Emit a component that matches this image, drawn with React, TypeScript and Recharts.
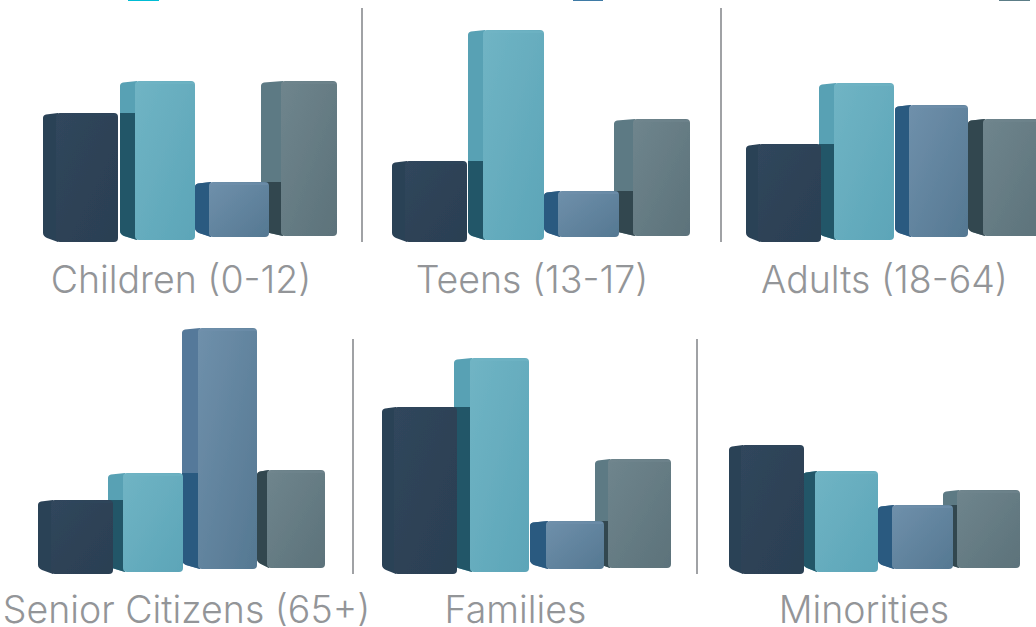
import { Bar, BarChart, Label, XAxis, YAxis } from "recharts";

const categories = ["Segment A", "Segment B", "Segment C", "Segment D"];

const panelNames = [
  "Children (0-12)",
  "Teens (13-17)",
  "Adults (18-64)",
  "Senior Citizens (65+)",
  "Families",
  "Minorities",
];

// bar heights for each panel, one list per series
const seriesA = [129, 81, 98, 74, 167, 129];
const seriesB = [159, 210, 157, 99, 214, 101];
const seriesC = [55, 46, 132, 241, 48, 64];
const seriesD = [155, 117, 117, 98, 109, 78];

const PLOT_H = 260;
const LABEL_H = 62;
const PAD = 60;

type Tone = { side: string; shade: string; light: string; dark: string };

const tones: Tone[] = [
  { side: "#2c4257", shade: "#2c4257", light: "#30465c", dark: "#2b3f52" },
  { side: "#58a1b4", shade: "#215768", light: "#70b4c4", dark: "#5ca5b8" },
  { side: "#55799a", shade: "#2b5a80", light: "#6f90ab", dark: "#557892" },
  { side: "#5d7a84", shade: "#33474f", light: "#6f858d", dark: "#5c727a" },
];

// per panel placement, and per bar fine adjustments (perspective of the render)
const panels = [
  { left: 43, bottom: 242, band: 74, shift: [0, 3, 4, -4], side: [13, 15, 14, 20], widths: [75, 75, 74, 76], labelDx: -10, labelDy: 7 },
  { left: 392, bottom: 242, band: 75, shift: [0, 1, 2, -3], side: [13, 15, 14, 19], widths: [75, 76, 75, 76], labelDx: -10, labelDy: 7 },
  { left: 746, bottom: 242, band: 74, shift: [0, -1, 1, 0], side: [12, 15, 14, 15], widths: [75, 75, 73, 76], labelDx: -9.5, labelDy: 7 },
  { left: 38, bottom: 574, band: 72, shift: [0, -2, 0, 3], side: [13, 15, 16, 10], widths: [75, 75, 75, 68], labelDx: 4.5, labelDy: 5 },
  { left: 382, bottom: 574, band: 72, shift: [0, 0, 4, -3], side: [12, 16, 16, 13], widths: [75, 75, 74, 76], labelDx: -10.5, labelDy: 5 },
  { left: 729, bottom: 574, band: 73, shift: [0, 1, 3, -5], side: [12, 12, 14, 14], widths: [75, 75, 75, 77], labelDx: -11, labelDy: 5 },
];

const drops = [0, 2, 5, 6];

const dividers = [
  { x: 361, y: 8, h: 234 },
  { x: 720, y: 8, h: 234 },
  { x: 352, y: 339, h: 235 },
  { x: 696, y: 339, h: 235 },
];

const legendStubs = [
  { x: 128, w: 31, color: "#00bcd4" },
  { x: 573, w: 30, color: "#3f7ba6" },
  { x: 999, w: 31, color: "#5c7d87" },
];

function ChartDefs({ prefix }: { prefix: string }) {
  return (
    <defs>
      {tones.map((t, i) => (
        <linearGradient key={i} id={`${prefix}-${i}`} x1="0" y1="0" x2="1" y2="1">
          <stop offset="0%" stopColor={t.light} />
          <stop offset="100%" stopColor={t.dark} />
        </linearGradient>
      ))}
      <filter id={`${prefix}-soft`} x="-5%" y="-5%" width="110%" height="110%">
        <feGaussianBlur stdDeviation="0.6" />
      </filter>
    </defs>
  );
}

function Box(props: any) {
  const { x, y, height, payload, panel, prefix } = props;
  const i: number = payload.index;
  const tone = tones[i];
  const cfg = panels[panel];
  const left = x + cfg.shift[i];
  const top = y - drops[i];
  const bottom = top + height;
  const right = left + cfg.widths[i];
  const front = left + cfg.side[i];
  // the neighbour in front throws its shadow on this bar's side face
  const prevTop = i > 0 ? PLOT_H - drops[i - 1] - payload.prevValue : null;
  const shadowTop = prevTop === null ? bottom : Math.max(prevTop, top);

  const sidePath = `M${left},${top + 5} Q${left},${top + 2} ${left + 3},${top + 1.5}
    L${front + 2},${top} L${front + 2},${bottom} L${left + 4},${bottom - 4} Q${left},${bottom - 6} ${left},${bottom - 9} Z`;

  return (
    <g filter={`url(#${prefix}-soft)`}>
      <clipPath id={`${prefix}-clip-${i}`}>
        <path d={sidePath} />
      </clipPath>
      <path d={sidePath} fill={tone.side} />
      {shadowTop < bottom && (
        <rect
          x={left}
          y={shadowTop}
          width={cfg.side[i] + 2}
          height={bottom - shadowTop}
          fill={tone.shade}
          clipPath={`url(#${prefix}-clip-${i})`}
        />
      )}
      <rect
        x={front}
        y={top}
        width={right - front}
        height={height}
        rx={4}
        fill={`url(#${prefix}-${i})`}
      />
      <rect x={front + 1} y={top + 1} width={right - front - 2} height={2} fill={tone.light} opacity={0.6} />
    </g>
  );
}

function Panel({ panel }: { panel: number }) {
  const cfg = panels[panel];
  const all = [seriesA, seriesB, seriesC, seriesD];
  const rows = categories
    .map((name, index) => ({
      name,
      index,
      value: all[index][panel],
      prevValue: index > 0 ? all[index - 1][panel] : 0,
    }))
    .reverse(); // last bar has to be painted first, the nearer bars overlap it

  const prefix = `panel${panel}`;

  return (
    <div style={{ position: "absolute", left: cfg.left - PAD, top: cfg.bottom - PLOT_H }}>
      <BarChart
        width={cfg.band * 4 + PAD * 2}
        height={PLOT_H + LABEL_H}
        data={rows}
        barCategoryGap={0}
        margin={{ top: 0, right: PAD, bottom: 0, left: PAD }}
      >
        <ChartDefs prefix={prefix} />
        <XAxis
          dataKey="name"
          reversed
          axisLine={false}
          tickLine={false}
          tick={false}
          height={LABEL_H}
        >
          <Label
            value={panelNames[panel]}
            position="center"
            dx={cfg.labelDx}
            dy={cfg.labelDy}
            fill="#939598"
            fontSize={37.5}
            fontWeight={300}
            fontFamily="Inter"
          />
        </XAxis>
        <YAxis hide domain={[0, PLOT_H]} />
        <Bar
          dataKey="value"
          isAnimationActive={false}
          shape={(p: any) => <Box {...p} panel={panel} prefix={prefix} />}
        />
      </BarChart>
    </div>
  );
}

export default function App() {
  return (
    <div
      style={{
        position: "absolute",
        left: 0,
        top: 0,
        width: 1036,
        height: 627,
        overflow: "hidden",
        background: "#ffffff",
      }}
    >
      {legendStubs.map((s) => (
        <div
          key={s.x}
          style={{ position: "absolute", left: s.x, top: 0, width: s.w, height: 1, background: s.color }}
        />
      ))}
      {panelNames.map((_, i) => (
        <Panel key={i} panel={i} />
      ))}
      {dividers.map((d) => (
        <div
          key={d.x}
          style={{ position: "absolute", left: d.x, top: d.y, width: 2, height: d.h, background: "#a0a2a5" }}
        />
      ))}
    </div>
  );
}
